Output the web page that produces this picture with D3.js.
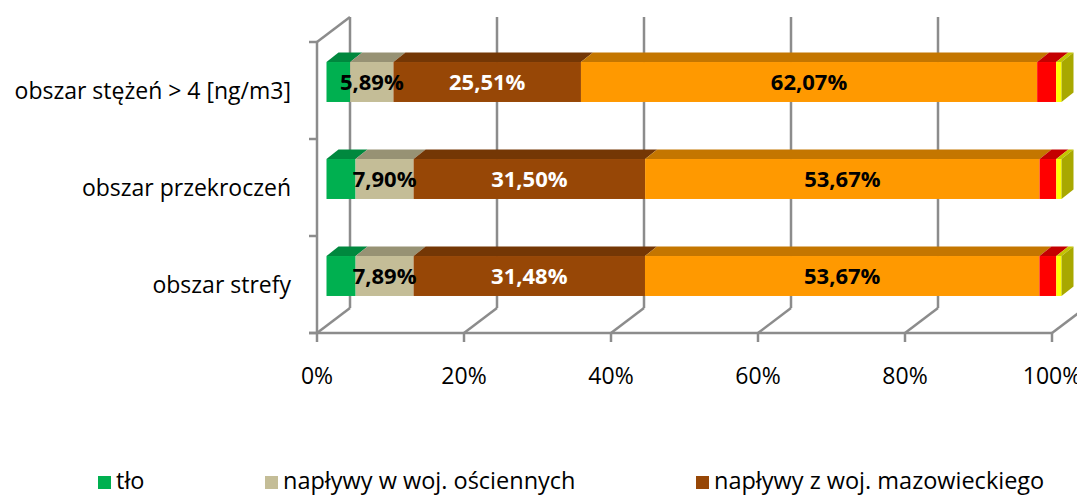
<!DOCTYPE html>
<html>
<head>
<meta charset="utf-8">
<script src="https://cdn.jsdelivr.net/npm/d3@7"></script>
<style>
body { margin: 0; background: #fff; }
text { font-family: "Open Sans", Lato, sans-serif; fill: #000; }
</style>
</head>
<body>
<div id="chart"></div>
<script>
// dane
const categories = ['obszar stężeń > 4 [ng/m3]', 'obszar przekroczeń', 'obszar strefy'];
const seriesNames = ['tło', 'napływy w woj. ościennych', 'napływy z woj. mazowieckiego',
                     'emisja powierzchniowa', 'emisja punktowa', 'emisja liniowa'];
const seriesColors = ['#00b050', '#c4bd97', '#974706', '#ff9900', '#ff0000', '#ffff00'];
const tlo = [3.22, 3.95, 3.96];
const naplywyOscienne = [5.89, 7.90, 7.89];
const naplywyMazowieckie = [25.51, 31.50, 31.48];
const emisjaPowierzchniowa = [62.07, 53.67, 53.67];
const emisjaPunktowa = [2.58, 2.27, 2.29];
const emisjaLiniowa = [0.73, 0.71, 0.71];
const labelColors = [null, '#000', '#fff', '#000', null, null]; // null = bez etykiety
const xTicks = [0, 20, 40, 60, 80, 100];
const legendItems = seriesNames.slice(0, 3); // reszta legendy ucieta w oryginale

const allSeries = [tlo, naplywyOscienne, naplywyMazowieckie, emisjaPowierzchniowa, emisjaPunktowa, emisjaLiniowa];
const table = categories.map((c, i) => {
    const row = { cat: c };
    seriesNames.forEach((s, j) => row[s] = allSeries[j][i]);
    return row;
});

const width = 1077, height = 495;
const DX = 33, DY = -25;          // glebokosc sciany
const FX = 9.5, FY = -8.5;        // przesuniecie przodu slupka
const BX = 12, BY = -9.5;         // glebokosc slupka
const gridColor = '#8c8c8c';

const svg = d3.select('#chart').append('svg')
    .attr('width', width).attr('height', height);

const x = d3.scaleLinear().domain([0, 100]).range([317, 1052]);
const y = d3.scaleBand().domain(categories).range([42, 333])
    .paddingInner(0.588).paddingOuter(0.294);
const yTop = 42, yBot = 333;

const fmt = v => d3.format('.2f')(v).replace('.', ',') + '%';
const shade = (c, k) => { const r = d3.rgb(c); return d3.rgb(r.r * k, r.g * k, r.b * k); };

// sciana tylna - linie siatki
svg.append('g').selectAll('line').data(xTicks).enter().append('line')
    .attr('x1', d => x(d) + DX).attr('x2', d => x(d) + DX)
    .attr('y1', yTop + DY).attr('y2', yBot + DY)
    .attr('stroke', gridColor).attr('stroke-width', 2.5);

// podloga
const floor = svg.append('g').attr('stroke', gridColor).attr('stroke-width', 2.5);
floor.append('line').attr('x1', x(0) - 8).attr('x2', x(100)).attr('y1', yBot).attr('y2', yBot);
floor.selectAll('.diag').data(xTicks).enter().append('line')
    .attr('x1', d => x(d)).attr('y1', yBot)
    .attr('x2', d => x(d) + DX).attr('y2', yBot + DY);
floor.selectAll('.tick').data(xTicks).enter().append('line')
    .attr('x1', d => x(d)).attr('x2', d => x(d))
    .attr('y1', yBot).attr('y2', yBot + 9);

// sciana lewa
const wall = svg.append('g').attr('stroke', gridColor).attr('stroke-width', 2.5);
wall.append('line').attr('x1', x(0)).attr('x2', x(0)).attr('y1', yTop).attr('y2', yBot);
wall.append('line').attr('x1', x(0)).attr('y1', yTop).attr('x2', x(0) + DX).attr('y2', yTop + DY);
const bounds = categories.map(c => y(c) - y.step() * y.paddingInner() / 2).concat([yBot]);
wall.selectAll('.ytick').data(bounds).enter().append('line')
    .attr('x1', x(0) - 8).attr('x2', x(0)).attr('y1', d => d).attr('y2', d => d);

// slupki
const stack = d3.stack().keys(seriesNames)(table);
const bars = svg.append('g');
const labels = svg.append('g');
stack.forEach((layer, si) => {
    const g = bars.append('g');
    layer.forEach(d => {
        const x0 = x(d[0]) + FX, x1 = x(d[1]) + FX;
        const y0 = y(d.data.cat) + FY, h = y.bandwidth();
        g.append('rect').attr('x', x0).attr('y', y0)
            .attr('width', x1 - x0).attr('height', h)
            .attr('fill', seriesColors[si]);
        g.append('path')
            .attr('d', `M${x0},${y0}L${x0 + BX},${y0 + BY}L${x1 + BX},${y0 + BY}L${x1},${y0}Z`)
            .attr('fill', shade(seriesColors[si], 0.77));
        if (si === stack.length - 1) {
            g.append('path')
                .attr('d', `M${x1},${y0}L${x1 + BX},${y0 + BY}L${x1 + BX},${y0 + BY + h}L${x1},${y0 + h}Z`)
                .attr('fill', shade(seriesColors[si], 0.66));
        }
        if (labelColors[si]) {
            labels.append('text')
                .attr('x', (x0 + x1) / 2).attr('y', y0 + h / 2)
                .attr('dy', '0.35em')
                .attr('text-anchor', 'middle')
                .style('font-weight', 'bold').style('font-size', '22px')
                .style('fill', labelColors[si])
                .text(fmt(d.data[seriesNames[si]]));
        }
    });
});

// etykiety kategorii
svg.append('g').selectAll('text').data(categories).enter().append('text')
    .attr('x', 291).attr('y', d => y(d) + y.bandwidth() / 2)
    .attr('dy', '0.35em').attr('text-anchor', 'end')
    .style('font-size', '23px')
    .text(d => d);

// etykiety osi x
svg.append('g').selectAll('text').data(xTicks).enter().append('text')
    .attr('x', d => x(d)).attr('y', 384)
    .attr('text-anchor', 'middle').style('font-size', '23px')
    .text(d => d + '%');

// legenda
const legendX = [98, 265, 696];
const legend = svg.append('g').selectAll('g').data(legendItems).enter().append('g')
    .attr('transform', (d, i) => `translate(${legendX[i]},476)`);
legend.append('rect').attr('width', 13).attr('height', 13)
    .attr('fill', (d, i) => seriesColors[i]);
legend.append('text').attr('x', 18).attr('y', 13)
    .style('font-size', '23.5px').text(d => d);
</script>
</body>
</html>
